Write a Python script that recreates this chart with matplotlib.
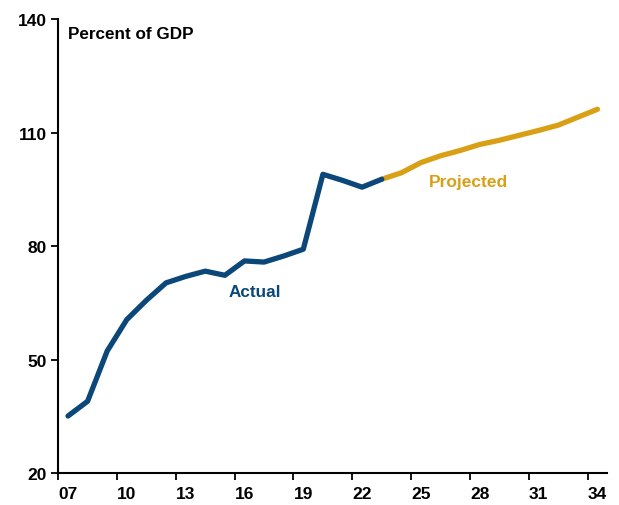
import matplotlib.pyplot as plt
import numpy as np

plt.rcParams["font.family"] = ["Liberation Sans", "DejaVu Sans"]
plt.rcParams["font.weight"] = "bold"

anios = list(range(2007, 2035))
actual_anios = list(range(2007, 2024))
actual = [35.1, 39.0, 52.3, 60.6, 65.7, 70.3, 72.0, 73.4, 72.3, 76.1,
          75.8, 77.4, 79.2, 99.0, 97.4, 95.6, 97.7]
proy_anios = list(range(2023, 2035))
proyectado = [97.7, 99.4, 102.1, 103.9, 105.3, 106.9, 108.0, 109.3,
              110.6, 112.0, 114.1, 116.2]
etiquetas = ["07", "10", "13", "16", "19", "22", "25", "28", "31", "34"]

azul = "#0b4778"
oro = "#d9a016"

fig = plt.figure(figsize=(6.19, 5.06), dpi=100)
ax = fig.add_axes([0.094, 0.063, 0.887, 0.897])

x_act = [anios.index(a) for a in actual_anios]
x_proy = [anios.index(a) for a in proy_anios]

ax.plot(x_proy, proyectado, color=oro, lw=3.8, solid_capstyle="round", zorder=2)
ax.plot(x_act, actual, color=azul, lw=3.8, solid_capstyle="round", zorder=3)

ax.set_xlim(-0.5, len(anios) - 0.5)
ax.set_ylim(20, 140)
ax.set_yticks([20, 50, 80, 110, 140])

# etiquetas centradas en el año, marcas en los bordes
pos = [anios.index(2000 + int(e)) for e in etiquetas]
ax.set_xticks(pos)
ax.set_xticklabels(etiquetas)
ax.set_xticks([p - 0.5 for p in pos], minor=True)
ax.tick_params(axis="x", which="major", length=0, pad=9, labelsize=12.5)
ax.tick_params(axis="x", which="minor", length=5, width=1.3, direction="out")
ax.tick_params(axis="y", length=5, width=1.3, direction="out", labelsize=12.5, pad=3)

for s in ["top", "right"]:
    ax.spines[s].set_visible(False)
for s in ["left", "bottom"]:
    ax.spines[s].set_linewidth(1.5)

ax.text(0.0, 136.3, "Percent of GDP", fontsize=12.3, fontweight="bold", va="center")
ax.text(9.55, 68.0, "Actual", color=azul, fontsize=12.3,
        fontweight="bold", ha="center", va="center")
ax.text(20.4, 97.1, "Projected", color=oro, fontsize=12.5,
        fontweight="bold", ha="center", va="center")

plt.savefig("out.png", dpi=100)
